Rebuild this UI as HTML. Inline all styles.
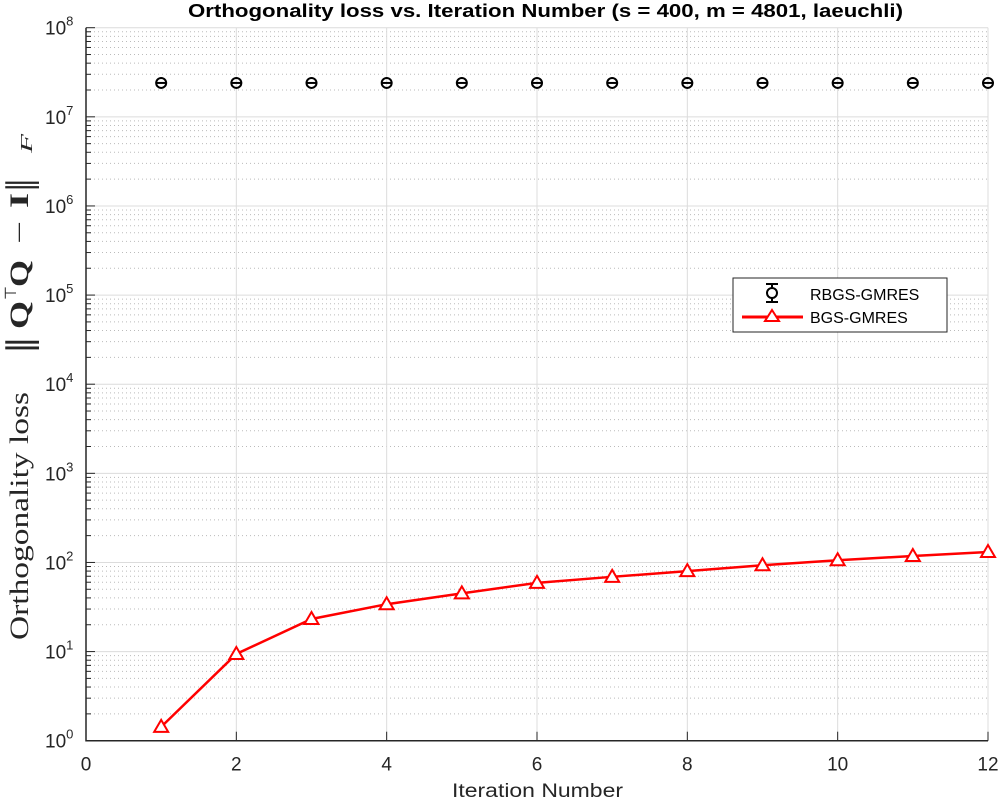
<!DOCTYPE html>
<html><head><meta charset="utf-8"><style>
body{margin:0;background:#fff;}
svg{display:block;font-family:"Liberation Sans",sans-serif;}
</style></head><body>
<svg id="chart" width="1003" height="801" viewBox="0 0 1003 801" xmlns="http://www.w3.org/2000/svg">
<rect width="1003" height="801" fill="#fff"/>
<g id="grid"></g>
<g id="axes"></g>
<g id="series"></g>
<text x="188" y="17" textLength="715" lengthAdjust="spacingAndGlyphs" font-size="18" font-weight="bold" fill="#000">Orthogonality loss vs. Iteration Number (s = 400, m = 4801, laeuchli)</text>
<text x="452" y="797" textLength="171" lengthAdjust="spacingAndGlyphs" font-size="19" fill="#262626">Iteration Number</text>
<g transform="rotate(-90)" font-family="'Liberation Serif',serif" fill="#262626" font-size="26">
<text x="-640" y="28" textLength="248" lengthAdjust="spacingAndGlyphs">Orthogonality loss</text>
<text x="-354" y="31" font-size="34" font-family="'DejaVu Serif',serif" textLength="18" lengthAdjust="spacingAndGlyphs">‖</text>
<text x="-329" y="28" font-weight="bold" textLength="28" lengthAdjust="spacingAndGlyphs">Q</text>
<text x="-300" y="16" font-size="16" textLength="14" lengthAdjust="spacingAndGlyphs">⊤</text>
<text x="-287" y="28" font-weight="bold" textLength="27" lengthAdjust="spacingAndGlyphs">Q</text>
<text x="-244" y="28" textLength="23" lengthAdjust="spacingAndGlyphs">−</text>
<text x="-208" y="28" font-weight="bold" textLength="15" lengthAdjust="spacingAndGlyphs">I</text>
<text x="-192" y="31" font-size="34" font-family="'DejaVu Serif',serif" textLength="14" lengthAdjust="spacingAndGlyphs">‖</text>
<text x="-153" y="32" font-size="17" font-style="italic" textLength="19" lengthAdjust="spacingAndGlyphs">F</text>
</g>
<g>
<rect x="733" y="278" width="214" height="54" fill="#fff" stroke="#262626" stroke-width="1"/>
<g>
<line x1="772" y1="284" x2="772" y2="302" stroke="#000" stroke-width="2"/>
<line x1="766" y1="284" x2="778" y2="284" stroke="#000" stroke-width="2"/>
<line x1="766" y1="302" x2="778" y2="302" stroke="#000" stroke-width="2"/>
<circle cx="772" cy="293" r="5" fill="#fff" stroke="#000" stroke-width="2"/>
<text x="810" y="300" font-size="16" fill="#000">RBGS-GMRES</text>
</g>
<g>
<line x1="742" y1="317" x2="803" y2="317" stroke="#f00" stroke-width="3"/>
<polygon points="772,310 779,321 765,321" fill="#fff" stroke="#f00" stroke-width="2"/>
<text x="810" y="323" font-size="16" fill="#000">BGS-GMRES</text>
</g>
</g>
</svg>
<script>
const iterations=[1,2,3,4,5,6,7,8,9,10,11,12];
const rbgsValues=[2.4e7,2.4e7,2.4e7,2.4e7,2.4e7,2.4e7,2.4e7,2.4e7,2.4e7,2.4e7,2.4e7,2.4e7];
const bgsValues=[1.43,9.4,23.2,34,45,59,69,80,93,106,118,131];
const xTicks=[0,2,4,6,8,10,12];
const yTickExps=[0,1,2,3,4,5,6,7,8];

const L=86,R=988,T=27.7,B=740.7;
const NS='http://www.w3.org/2000/svg';
function xs(v){return L+(v-0)/(12-0)*(R-L);}
function ys(v){return B-(Math.log10(v)-0)/(8-0)*(B-T);}
function mk(tag,attrs,parent){const e=document.createElementNS(NS,tag);for(const k in attrs)e.setAttribute(k,attrs[k]);parent.appendChild(e);return e;}
const grid=document.getElementById('grid'),axes=document.getElementById('axes'),series=document.getElementById('series');

for(let d=0;d<8;d++){for(let m=2;m<=9;m++){const y=ys(m*Math.pow(10,d));
const l=mk('line',{x1:L,x2:R,y1:y,y2:y,stroke:'#bbb','stroke-width':1,'stroke-dasharray':'1,3'},grid);


const t=mk('line',{x1:L,x2:L+5,y1:y,y2:y,stroke:'#262626','stroke-width':1},axes);

}}
yTickExps.forEach(e=>{const y=ys(Math.pow(10,e));
const l=mk('line',{x1:L,x2:R,y1:y,y2:y,stroke:'#dcdcdc','stroke-width':1},grid);


const t=mk('line',{x1:L,x2:L+9,y1:y,y2:y,stroke:'#262626','stroke-width':1},axes);


const tx=mk('text',{x:45,y:y+7,'font-size':19,fill:'#262626'},axes);


tx.textContent='10';const sp=mk('tspan',{dy:-9,'font-size':13},tx);sp.textContent=String(e);});
xTicks.forEach(v=>{const x=xs(v);
const l=mk('line',{x1:x,x2:x,y1:T,y2:B,stroke:'#dcdcdc','stroke-width':1},grid);


const t=mk('line',{x1:x,x2:x,y1:B,y2:B-9,stroke:'#262626','stroke-width':1},axes);


const tx=mk('text',{x:x,y:B+30,'text-anchor':'middle','font-size':19,fill:'#262626'},axes);


tx.textContent=String(v);});
const ax=mk('path',{d:`M${L},${T} L${L},${B} L${R},${B}`,fill:'none',stroke:'#262626','stroke-width':1.5},axes);



const pts=iterations.map((it,i)=>xs(it)+','+ys(bgsValues[i])).join(' ');
const pl=mk('polyline',{points:pts,fill:'none',stroke:'#f00','stroke-width':2.5},series);


iterations.forEach((it,i)=>{const x=xs(it),y=ys(bgsValues[i]);
const p=mk('polygon',{points:`${x},${y-7} ${x+7},${y+5} ${x-7},${y+5}`,fill:'#fff',stroke:'#f00','stroke-width':2},series);

});
iterations.forEach((it,i)=>{const x=xs(it),y=ys(rbgsValues[i]);
const c=mk('circle',{cx:x,cy:y,r:5,fill:'none',stroke:'#000','stroke-width':2},series);


const h=mk('line',{x1:x-5,x2:x+5,y1:y,y2:y,stroke:'#000','stroke-width':2},series);

});
</script>
</body></html>
